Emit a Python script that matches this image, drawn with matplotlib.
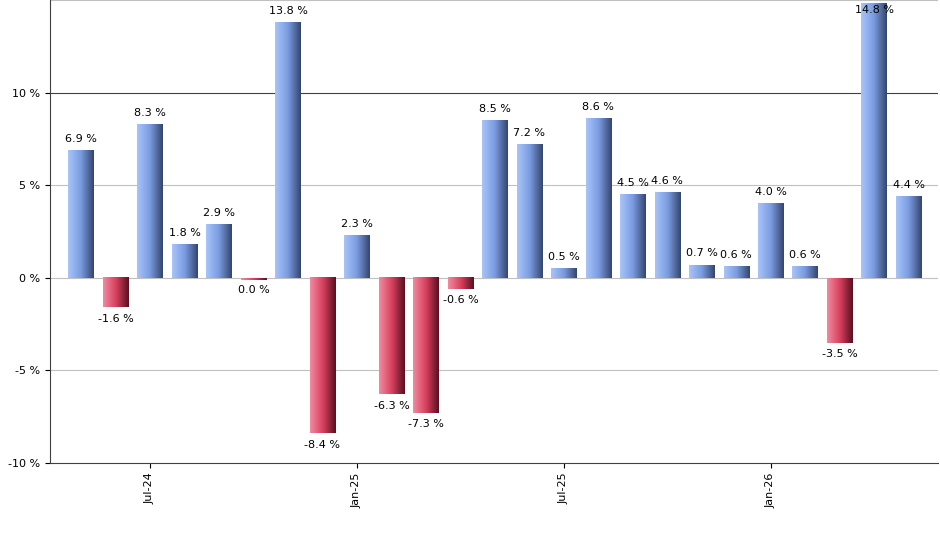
import matplotlib
matplotlib.use("Agg")
import matplotlib.pyplot as plt
import numpy as np
from matplotlib.colors import LinearSegmentedColormap

values = [6.9, -1.6, 8.3, 1.8, 2.9, -0.05, 13.8, -8.4, 2.3, -6.3, -7.3, -0.6,
          8.5, 7.2, 0.5, 8.6, 4.5, 4.6, 0.7, 0.6, 4.0, 0.6, -3.5, 14.8, 4.4]
labels = ["6.9 %", "-1.6 %", "8.3 %", "1.8 %", "2.9 %", "0.0 %", "13.8 %", "-8.4 %",
          "2.3 %", "-6.3 %", "-7.3 %", "-0.6 %", "8.5 %", "7.2 %", "0.5 %", "8.6 %",
          "4.5 %", "4.6 %", "0.7 %", "0.6 %", "4.0 %", "0.6 %", "-3.5 %", "14.8 %", "4.4 %"]
tick_pos = [2, 8, 14, 20]
tick_labels = ["Jul-24", "Jan-25", "Jul-25", "Jan-26"]

fig = plt.figure(figsize=(9.4, 5.5), dpi=100)
ax = fig.add_axes([50/940, 87/550, 888/940, 463/550])
ax.set_xlim(-0.9, 24.85)
ax.set_ylim(-10, 15)

blue = LinearSegmentedColormap.from_list("b", ["#a8c4f8", "#7a9be0", "#34466e"])
red = LinearSegmentedColormap.from_list("r", ["#f08aa0", "#d8405e", "#5a1020"])
grad = np.linspace(0, 1, 64).reshape(1, -1)
w = 0.74
for i, v in enumerate(values):
    cm = blue if v >= 0 else red
    y0, y1 = (0, v) if v >= 0 else (v, 0)
    if abs(v) < 0.1:
        y0, y1 = -0.1, 0
    ax.imshow(grad, cmap=cm, extent=[i - w/2, i + w/2, y0, y1], aspect="auto", zorder=3)
    if v >= 0:
        ax.text(i, min(v + 0.35, 14.2), labels[i], ha="center", va="bottom", fontsize=8, zorder=4)
    else:
        ax.text(i, v - 0.35, labels[i], ha="center", va="top", fontsize=8, zorder=4)

ax.set_yticks([-10, -5, 0, 5, 10])
ax.set_yticklabels(["-10 %", "-5 %", "0 %", "5 %", "10 %"], fontsize=8)
for y in [-5, 0, 5, 15]:
    ax.axhline(y, color="#c0c0c0", lw=0.8, zorder=1)
ax.axhline(10, color="#404040", lw=0.8, zorder=1)
ax.set_xticks(tick_pos)
ax.set_xticklabels(tick_labels, rotation=90, fontsize=8)
for s in ["top", "right"]:
    ax.spines[s].set_visible(False)
ax.spines["left"].set_color("#404040")
ax.spines["bottom"].set_color("#404040")
fig.savefig("out.png")
